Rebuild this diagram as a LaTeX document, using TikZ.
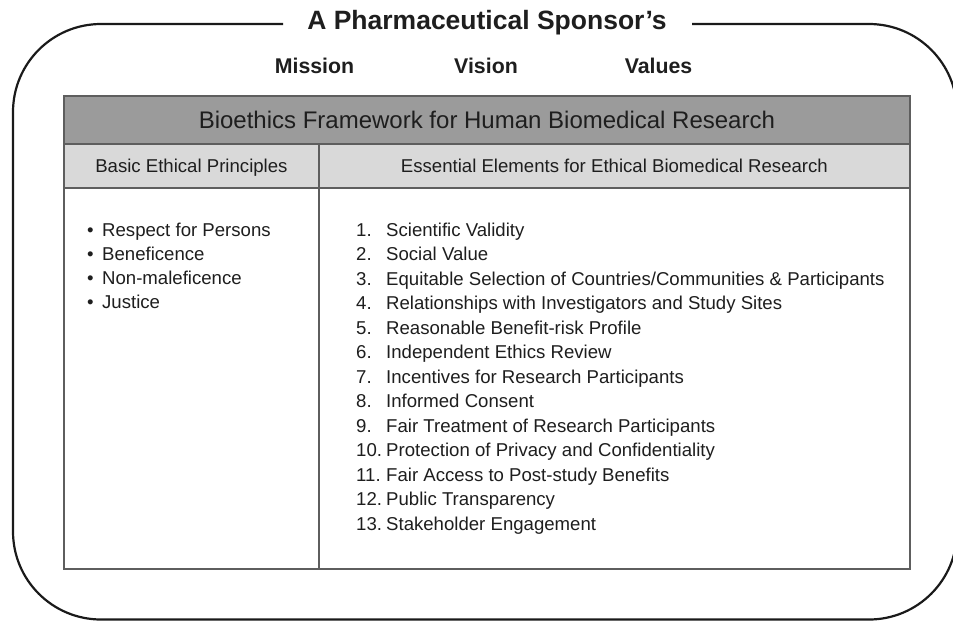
\documentclass[tikz,border=0pt]{standalone}
\usepackage{fontspec}
\setmainfont{Liberation Sans}
\definecolor{ink}{HTML}{1E1E1E}
\definecolor{framecol}{HTML}{1A1A1A}
\definecolor{rulecol}{HTML}{5E5E5E}
\definecolor{bandfill}{HTML}{9B9B9B}
\definecolor{headfill}{HTML}{D9D9D9}
\begin{document}
\begin{tikzpicture}[x=1pt,y=-1pt,
  outline/.style={draw=framecol, line width=2.2pt, rounded corners=88pt},
  cell/.style={draw=rulecol, line width=1.8pt, anchor=north west, inner sep=0pt,
               text=ink, align=center, text depth=0pt},
  bandcell/.style={cell, fill=bandfill, text height=17.3pt, font=\fontsize{24}{28}\selectfont},
  headcell/.style={cell, fill=headfill, text height=13.4pt, font=\fontsize{18.6}{22}\selectfont},
  bodycell/.style={cell, fill=white},
  heading/.style={anchor=base, inner sep=0pt, text=ink, font=\bfseries\fontsize{26.5}{30}\selectfont},
  pillar/.style={anchor=base, inner sep=0pt, text=ink, font=\bfseries\fontsize{21.3}{25}\selectfont},
  entry/.style={anchor=base west, inner sep=0pt, text=ink, font=\fontsize{18.6}{22}\selectfont}
]
\useasboundingbox (0,0) rectangle (953,621);

% heading and the three pillars
\node[heading] (title) at (487,29) {A Pharmaceutical Sponsor’s};
\node[pillar] (mission) at (314.5,73) {Mission};
\node[pillar] (vision) at (486,73) {Vision};
\node[pillar] (values) at (658.5,73) {Values};

% rounded outer frame, open around the heading
\coordinate (fa) at (283,24);
\coordinate (fb) at (692,24);
\draw[outline] (fa) -| (13,619.5) -| (957,24) -- (fb);

% framework table
\node[bandcell, minimum width=846pt, minimum height=48pt] (band) at (63,95)
  {Bioethics Framework for Human Biomedical Research};
\node[headcell, minimum width=255pt, minimum height=44pt] (hleft) at (63,143)
  {Basic Ethical Principles};
\node[headcell, minimum width=591pt, minimum height=44pt] (hright) at (318,143)
  {Essential Elements for Ethical Biomedical Research};
\node[bodycell, minimum width=255pt, minimum height=381pt] (bleft) at (63,187) {};
\node[bodycell, minimum width=591pt, minimum height=381pt] (bright) at (318,187) {};

% basic ethical principles
\foreach \t [count=\i] in {Respect for Persons, Beneficence, Non-maleficence, Justice}
  \node[entry] (p\i) at (87,{236+(\i-1)*24}) {\makebox[15pt][l]{\textbullet}\t};

% essential elements
\foreach \t [count=\i] in {Scientific Validity, Social Value,
    Equitable Selection of Countries/Communities \& Participants,
    Relationships with Investigators and Study Sites,
    Reasonable Benefit-risk Profile, Independent Ethics Review,
    Incentives for Research Participants, Informed Consent,
    Fair Treatment of Research Participants,
    Protection of Privacy and Confidentiality,
    Fair Access to Post-study Benefits, Public Transparency,
    Stakeholder Engagement}
  \node[entry] (e\i) at (356,{236+(\i-1)*24.5}) {\makebox[30pt][l]{\i.}\t};
\end{tikzpicture}
\end{document}
